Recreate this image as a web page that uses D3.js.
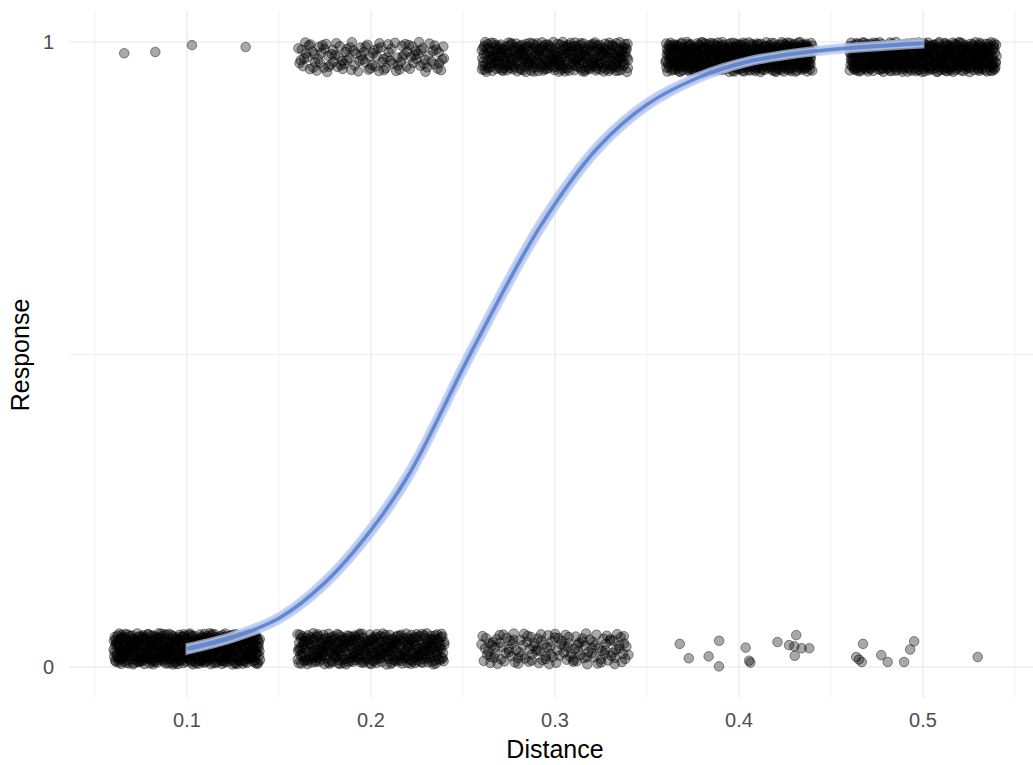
<!DOCTYPE html>
<html>
<head>
<meta charset="utf-8">
<script src="https://cdn.jsdelivr.net/npm/d3@7"></script>
<style>
  body { margin: 0; background: #fff; }
  text { font-family: "Liberation Sans", Arial, sans-serif; }
</style>
</head>
<body>
<svg id="chart" width="1033" height="765"></svg>
<script>
// distance levels and how many trials landed at each response (dense clusters)
var distances = [0.1, 0.2, 0.3, 0.4, 0.5]
var countZero = [496, 375, 140, 0, 0]
var countOne = [0, 125, 360, 485, 490]

// the few scattered points, read one by one
var sparseX = [0.0659, 0.0828, 0.1027, 0.1319,
  0.3678, 0.3727, 0.3892, 0.3835, 0.3891, 0.4036, 0.4055, 0.4062, 0.4209, 0.4311, 0.4272, 0.4301, 0.4340, 0.4382, 0.4303,
  0.4674, 0.4637, 0.4667, 0.4652, 0.4773, 0.4808, 0.4897, 0.4930, 0.4952, 0.5297]
var sparseY = [0.982, 0.984, 0.995, 0.992,
  0.037, 0.014, 0.042, 0.017, 0.001, 0.031, 0.010, 0.007, 0.040, 0.051, 0.035, 0.033, 0.030, 0.030, 0.018,
  0.037, 0.016, 0.008, 0.012, 0.019, 0.008, 0.008, 0.028, 0.041, 0.016]

// fitted logistic curve and its band
var fitX = [0.1, 0.125, 0.15, 0.175, 0.2, 0.221, 0.254, 0.292, 0.323, 0.35, 0.377, 0.404, 0.44, 0.5]
var fitY = [0.029, 0.048, 0.078, 0.135, 0.219, 0.31, 0.501, 0.705, 0.830, 0.900, 0.942, 0.968, 0.985, 0.998]
var fitSE = [0.007, 0.007, 0.008, 0.010, 0.012, 0.014, 0.015, 0.014, 0.011, 0.009, 0.007, 0.006, 0.006, 0.006]

var xTicks = [0.1, 0.2, 0.3, 0.4, 0.5]
var xMinor = [0.05, 0.15, 0.25, 0.35, 0.45, 0.55]
var yTicks = [0, 1]
var yMinor = [0.5]

var svg = d3.select('#chart')
var W = 1033

var x = d3.scaleLinear().domain([0.036, 0.564]).range([69.2, 1040.8])
var y = d3.scaleLinear().domain([-0.05, 1.05]).range([698.25, 10.75])

svg.append('clipPath').attr('id', 'panel').append('rect')
  .attr('x', x.range()[0]).attr('y', y.range()[1])
  .attr('width', W - x.range()[0]).attr('height', y.range()[0] - y.range()[1])

var grid = svg.append('g')

/** grid lines */
grid.selectAll('.xminor').data(xMinor).enter().append('line')
  .attr('x1', function (d) { return x(d) }).attr('x2', function (d) { return x(d) })
  .attr('y1', y.range()[1]).attr('y2', y.range()[0])
  .style('stroke', '#f2f2f2').style('stroke-width', 1)
grid.selectAll('.yminor').data(yMinor).enter().append('line')
  .attr('y1', function (d) { return y(d) }).attr('y2', function (d) { return y(d) })
  .attr('x1', x.range()[0]).attr('x2', W)
  .style('stroke', '#f2f2f2').style('stroke-width', 1)
grid.selectAll('.xmajor').data(xTicks).enter().append('line')
  .attr('x1', function (d) { return x(d) }).attr('x2', function (d) { return x(d) })
  .attr('y1', y.range()[1]).attr('y2', y.range()[0])
  .style('stroke', '#e6e6e6').style('stroke-width', 1.1)
grid.selectAll('.ymajor').data(yTicks).enter().append('line')
  .attr('y1', function (d) { return y(d) }).attr('y2', function (d) { return y(d) })
  .attr('x1', x.range()[0]).attr('x2', W)
  .style('stroke', '#e6e6e6').style('stroke-width', 1.1)

/** jitter offsets, low discrepancy so the clouds stay even */
function halton (i, b) {
  var f = 1, r = 0
  while (i > 0) { f = f / b; r += f * (i % b); i = Math.floor(i / b) }
  return r
}

var pts = []
var k = 1
distances.forEach(function (d, g) {
  var j
  for (j = 0; j < countZero[g]; j++) {
    pts.push({x: d + (halton(k, 2) * 2 - 1) * 0.04, y: 0.004 + halton(k, 3) * 0.05})
    k++
  }
  for (j = 0; j < countOne[g]; j++) {
    pts.push({x: d + (halton(k, 2) * 2 - 1) * 0.04, y: 0.952 + halton(k, 3) * 0.048})
    k++
  }
})
sparseX.forEach(function (v, i) { pts.push({x: v, y: sparseY[i]}) })

var plot = svg.append('g').attr('clip-path', 'url(#panel)')

plot.selectAll('circle').data(pts).enter().append('circle')
  .attr('cx', function (d) { return x(d.x) })
  .attr('cy', function (d) { return y(d.y) })
  .attr('r', 4.8)
  .style('fill', '#000').style('fill-opacity', 0.34)
  .style('stroke', '#000').style('stroke-opacity', 0.45).style('stroke-width', 0.9)

/** smooth line with its band */
var fit = fitX.map(function (v, i) { return {x: v, y: fitY[i], se: fitSE[i]} })

var band = d3.area().curve(d3.curveCatmullRom)
  .x(function (d) { return x(d.x) })
  .y0(function (d) { return y(d.y - d.se) })
  .y1(function (d) { return y(d.y + d.se) })
plot.append('path').datum(fit).attr('d', band)
  .style('fill', '#aabde9').style('fill-opacity', 0.8)
  .style('stroke', '#b9c9ee').style('stroke-width', 3).style('stroke-opacity', 0.7)

var line = d3.line().curve(d3.curveCatmullRom)
  .x(function (d) { return x(d.x) })
  .y(function (d) { return y(d.y) })
plot.append('path').datum(fit).attr('d', line)
  .style('fill', 'none').style('stroke', '#6287d3').style('stroke-width', 3.5)

/** axes text */
svg.selectAll('.xtick').data(xTicks).enter().append('text')
  .attr('x', function (d) { return x(d) }).attr('y', 727)
  .attr('text-anchor', 'middle').style('font-size', '20px').style('fill', '#4d4d4d')
  .text(function (d) { return d3.format('.1f')(d) })

svg.selectAll('.ytick').data(yTicks).enter().append('text')
  .attr('x', 54).attr('y', function (d) { return y(d) + 7 })
  .attr('text-anchor', 'end').style('font-size', '20px').style('fill', '#4d4d4d')
  .text(function (d) { return d })

svg.append('text').attr('x', 555).attr('y', 758)
  .attr('text-anchor', 'middle').style('font-size', '25px').style('fill', '#000')
  .text('Distance')

svg.append('text').attr('transform', 'translate(29,355) rotate(-90)')
  .attr('text-anchor', 'middle').style('font-size', '25px').style('fill', '#000')
  .text('Response')
</script>
</body>
</html>
